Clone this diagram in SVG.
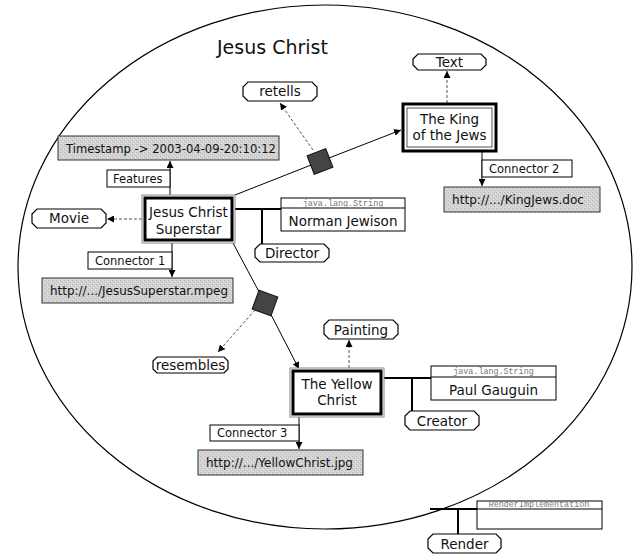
<svg xmlns="http://www.w3.org/2000/svg" width="634" height="556" viewBox="0 0 634 556">
<style>
text{font-family:"DejaVu Sans","Verdana",sans-serif;fill:#111}
.lbl{font-size:11.5px}
.nt{font-size:13.5px;text-anchor:middle}
.mono{font-family:"Liberation Mono","DejaVu Sans Mono",monospace;font-size:8.4px;fill:#777;text-anchor:middle}
.oct{fill:#fff;stroke:#000;stroke-width:1.2}
.box{fill:#fff;stroke:#000;stroke-width:1}
.url{fill:url(#stip);stroke:#333;stroke-width:1}
.ln{stroke:#000;stroke-width:1;fill:none}
.thk{stroke:#000;stroke-width:2;fill:none}
.dash{stroke:#555;stroke-width:1;stroke-dasharray:3,2;fill:none}
.dia{fill:#444;stroke:#111;stroke-width:1}
</style>
<defs>
<pattern id="stip" width="4" height="4" patternUnits="userSpaceOnUse">
<rect width="4" height="4" fill="#d2d2d2"/>
<rect x="0" y="0" width="1" height="1" fill="#b8b8b8"/>
<rect x="2" y="2" width="1" height="1" fill="#bdbdbd"/>
<rect x="1" y="3" width="1" height="1" fill="#e4e4e4"/>
<rect x="3" y="1" width="1" height="1" fill="#e4e4e4"/>
</pattern>
<marker id="ah" viewBox="0 0 8 8" refX="8" refY="4" markerWidth="7" markerHeight="7" markerUnits="userSpaceOnUse" orient="auto">
<path d="M0,0 L8,4 L0,8 z" fill="#000"/>
</marker>
</defs>

<rect width="634" height="556" fill="#fff"/>

<g id="context">
<ellipse cx="325" cy="267" rx="307" ry="262" fill="none" stroke="#000" stroke-width="1.2"/>
<text x="217" y="54" font-size="19">Jesus Christ</text>
</g>

<g id="connectors">
<path class="ln" d="M235,195 L320,161.5 L401,130" marker-end="url(#ah)"/>
<path class="dash" d="M313,150 L280,103" marker-end="url(#ah)"/>
<path class="ln" d="M233,243 L265,303 L299,369" marker-end="url(#ah)"/>
<path class="dash" d="M255,310 L218,352" marker-end="url(#ah)"/>
<path class="ln" d="M170,195 L170,161" marker-end="url(#ah)"/>
<path class="dash" d="M142,219 L107,219" marker-end="url(#ah)"/>
<path class="ln" d="M172,243 L172,277" marker-end="url(#ah)"/>
<path class="thk" d="M235,209 L281,209 M262,209 L262,244"/>
<path class="dash" d="M447,103 L447,71" marker-end="url(#ah)"/>
<path class="ln" d="M482,152 L482,186" marker-end="url(#ah)"/>
<path class="dash" d="M349,368 L349,340" marker-end="url(#ah)"/>
<path class="ln" d="M299,417 L299,449" marker-end="url(#ah)"/>
<path class="thk" d="M384,378 L431,378 M412,378 L412,411"/>
<path class="thk" d="M430,509 L477,509 M458,509 L458,534"/>
</g>

<g id="diamond-retells"><rect class="dia" x="310" y="151.5" width="20" height="20" transform="rotate(-21 320 161.5)"/></g>
<g id="diamond-resembles"><rect class="dia" x="255" y="293" width="20" height="20" transform="rotate(20 265 303)"/></g>

<g id="retells"><path class="oct" d="M248,82 H312 L317,87 V96 L312,101 H248 L243,96 V87 Z"/><text class="nt" x="280" y="96" font-size="13">retells</text></g>

<g id="timestamp"><rect class="url" x="58" y="136" width="221" height="24"/><text x="66" y="153" font-size="12.5" textLength="210" lengthAdjust="spacingAndGlyphs">Timestamp -&gt; 2003-04-09-20:10:12</text></g>
<g id="features"><rect class="box" x="107" y="170" width="63" height="17"/><text class="lbl" x="113" y="183">Features</text></g>

<g id="superstar">
<rect x="142" y="195" width="93" height="48" fill="#fff" stroke="#888" stroke-width="1"/>
<rect x="145" y="198" width="87" height="42" fill="#fff" stroke="#000" stroke-width="3"/>
<text class="nt" x="188.5" y="217">Jesus Christ</text>
<text class="nt" x="188.5" y="234">Superstar</text>
</g>

<g id="movie"><path class="oct" d="M37,209 H101 L106,214 V223 L101,228 H37 L32,223 V214 Z"/><text class="nt" x="69" y="223" font-size="13">Movie</text></g>

<g id="connector1"><rect class="box" x="88" y="252" width="84" height="17"/><text class="lbl" x="95" y="265">Connector 1</text></g>
<g id="url1"><rect class="url" x="42" y="278" width="191" height="25"/><text x="50" y="295" font-size="12.5" textLength="178" lengthAdjust="spacingAndGlyphs">http://.../JesusSuperstar.mpeg</text></g>

<g id="norman">
<rect class="box" x="281" y="198" width="124" height="33"/>
<line x1="281" y1="208" x2="405" y2="208" stroke="#000" stroke-width="1"/>
<text class="mono" x="343" y="205.5">java.lang.String</text>
<text class="nt" x="343" y="226">Norman Jewison</text>
</g>
<g id="director"><path class="oct" d="M260,244 H324 L329,249 V257 L324,262 H260 L255,257 V249 Z"/><text class="nt" x="292" y="258" font-size="13">Director</text></g>

<g id="king">
<rect x="403" y="104" width="93" height="47" fill="#fff" stroke="#000" stroke-width="3"/>
<rect x="407" y="108" width="85" height="39" fill="none" stroke="#555" stroke-width="1"/>
<text class="nt" x="449.5" y="124">The King</text>
<text class="nt" x="449.5" y="140">of the Jews</text>
</g>
<g id="text"><path class="oct" d="M418,54 H481 L486,59 V65 L481,70 H418 L413,65 V59 Z"/><text class="nt" x="449.5" y="67" font-size="13">Text</text></g>
<g id="connector2"><rect class="box" x="482" y="160" width="90" height="17"/><text class="lbl" x="489" y="173">Connector 2</text></g>
<g id="url2"><rect class="url" x="444" y="187" width="156" height="25"/><text x="452" y="204" font-size="12.5" textLength="132" lengthAdjust="spacingAndGlyphs">http://.../KingJews.doc</text></g>

<g id="resembles"><path class="oct" d="M157,357 H224 L228,361 V369 L224,373 H157 L153,369 V361 Z"/><text class="nt" x="190.5" y="370" font-size="13">resembles</text></g>
<g id="painting"><path class="oct" d="M329,320 H393 L398,325 V334 L393,339 H329 L324,334 V325 Z"/><text class="nt" x="361" y="335" font-size="13">Painting</text></g>

<g id="yellow">
<rect x="290" y="368" width="94" height="49" fill="#fff" stroke="#888" stroke-width="1"/>
<rect x="293" y="371" width="88" height="43" fill="#fff" stroke="#000" stroke-width="3"/>
<text class="nt" x="337" y="389">The Yellow</text>
<text class="nt" x="337" y="405">Christ</text>
</g>
<g id="gauguin">
<rect class="box" x="431" y="366" width="125" height="34"/>
<line x1="431" y1="377" x2="556" y2="377" stroke="#000" stroke-width="1"/>
<text class="mono" x="493.5" y="374">java.lang.String</text>
<text class="nt" x="493.5" y="395">Paul Gauguin</text>
</g>
<g id="creator"><path class="oct" d="M410,411 H474 L479,416 V425 L474,430 H410 L405,425 V416 Z"/><text class="nt" x="442" y="426" font-size="13">Creator</text></g>
<g id="connector3"><rect class="box" x="210" y="425" width="89" height="16"/><text class="lbl" x="217" y="437">Connector 3</text></g>
<g id="url3"><rect class="url" x="198" y="450" width="165" height="25"/><text x="206" y="467" font-size="12.5" textLength="147" lengthAdjust="spacingAndGlyphs">http://.../YellowChrist.jpg</text></g>

<g id="renderimpl">
<rect class="box" x="477" y="501" width="125" height="28"/>
<line x1="477" y1="509" x2="602" y2="509" stroke="#000" stroke-width="1"/>
<text class="mono" x="539" y="507">RenderImplementation</text>
</g>
<g id="render"><path class="oct" d="M433,534 H496 L501,539 V548 L496,553 H433 L428,548 V539 Z"/><text class="nt" x="464.5" y="549" font-size="13">Render</text></g>
</svg>
